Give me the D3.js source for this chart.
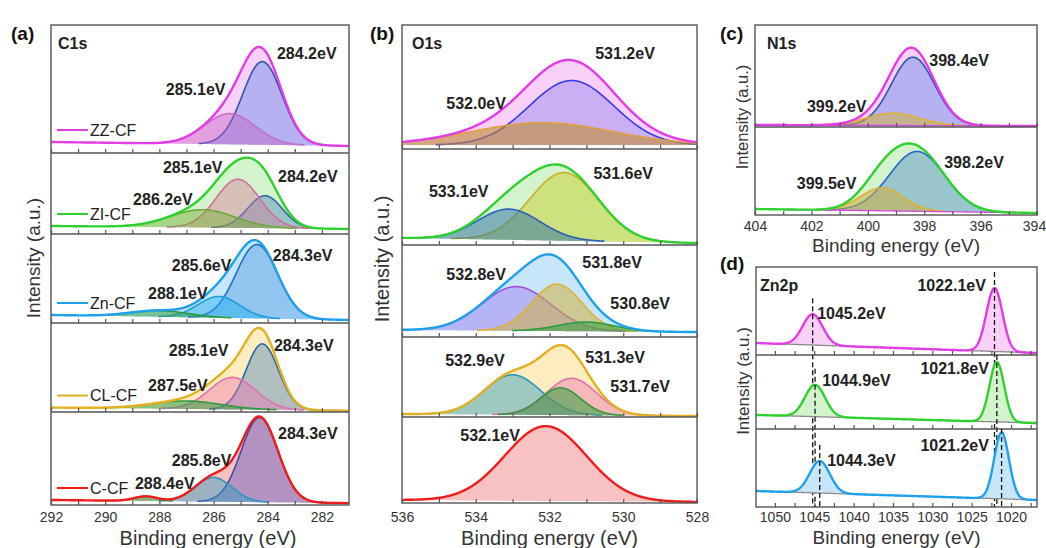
<!DOCTYPE html>
<html>
<head>
<meta charset="utf-8">
<script src="https://cdn.jsdelivr.net/npm/d3@7"></script>
<style>
body { margin: 0; background: #fff; }
svg { font-family: Arial, "Liberation Sans", sans-serif; }
</style>
</head>
<body>
<svg id="chart" width="1046" height="548"></svg>
<script>
// sample names, top strip to bottom strip
const samples = ["ZZ-CF", "ZI-CF", "Zn-CF", "CL-CF", "C-CF"];
const sampleLine = {"ZZ-CF": "#e23ce6", "ZI-CF": "#2fd12f", "Zn-CF": "#1fa0ea", "CL-CF": "#e3b022", "C-CF": "#f01c1c"};
const sampleFill = {"ZZ-CF": "#f9d0f7", "ZI-CF": "#d3f3cc", "Zn-CF": "#c8e6f9", "CL-CF": "#fcecbf", "C-CF": "#f9c2c2"};

// fitted component styles: [fill, stroke, fill opacity]
const compStyles = {
    indigo: ["#5b86e8", "#2b58a8", 0.42],
    orchid: ["#c45cc4", "#c070c8", 0.42],
    rose: ["#d87898", "#d0709a", 0.42],
    steel: ["#4a80c0", "#2a6aa0", 0.42],
    olive: ["#74b030", "#6aaa38", 0.45],
    azure: ["#4a98e8", "#1f6fc0", 0.42],
    cyan: ["#20b0f0", "#1aa0d8", 0.45],
    green: ["#30a040", "#2f9a3f", 0.55],
    pink: ["#f070b0", "#e070b0", 0.42],
    slate: ["#5050c0", "#4848a8", 0.42],
    teal: ["#2aa0c0", "#2a98c0", 0.45],
    blue: ["#8a80f0", "#3a3ae8", 0.42],
    tan: ["#c08a30", "#e0a040", 0.6],
    lime: ["#c8d030", "#c8b020", 0.5],
    navy: ["#2a70a8", "#2a60c0", 0.5],
    violet: ["#9a70f0", "#a050e0", 0.42],
    gold: ["#d0b040", "#e0b030", 0.55],
    sea: ["#5090c8", "#2a60d0", 0.45]
};

// peaks: [centre eV, height % of strip, fwhm eV, style]; backgrounds: [high-BE end, low-BE end] in %
const c1sBackground = [[8.6, 5.5], [9.9, 6.2], [9.0, 3.4], [5.0, 1.5], [5.4, 2.0]];
const c1sPeaks = [
    [[284.2, 65, 1.7, "indigo"], [285.4, 24, 2.2, "orchid"]],
    [[284.1, 40, 1.5, "steel"], [285.1, 60, 1.9, "rose"], [286.4, 22, 2.8, "olive"]],
    [[284.4, 83, 1.8, "azure"], [285.8, 24, 1.8, "cyan"], [288.0, 7, 2.5, "green"]],
    [[284.2, 74, 1.4, "steel"], [285.3, 36, 2.0, "pink"], [287.0, 9, 3.0, "green"]],
    [[284.3, 91, 1.6, "slate"], [286.0, 26, 1.6, "teal"], [288.5, 5, 1.0, "green"]]
];
const c1sNotes = [
    [[283.66, 78, "284.2eV"], [287.76, 50, "285.1eV"]],
    [[287.87, 82.7, "285.1eV"], [283.62, 71.6, "284.2eV"], [288.97, 43.2, "286.2eV"]],
    [[283.81, 76.4, "284.3eV"], [287.54, 65.2, "285.6eV"], [288.42, 33.7, "288.1eV"]],
    [[283.77, 75.3, "284.3eV"], [287.65, 69.7, "285.1eV"], [288.42, 30.3, "287.5eV"]],
    [[283.62, 77.4, "284.3eV"], [287.54, 48.4, "285.8eV"], [288.9, 23.7, "288.4eV"]]
];

const o1sBackground = [[3.2, 3.2], [7.3, 2.0], [7.6, 5.4], [3.75, 1.25], [3.5, 1.2]];
const o1sPeaks = [
    [[531.4, 52, 2.7, "blue"], [532.2, 18, 4.5, "tan"]],
    [[531.6, 71, 2.2, "lime"], [533.1, 32, 2.0, "navy"]],
    [[532.9, 48, 2.2, "violet"], [531.8, 51, 1.6, "gold"], [531.0, 10, 1.8, "green"]],
    [[533.0, 50, 1.8, "teal"], [531.4, 46, 1.6, "pink"], [531.7, 34, 1.3, "green"]],
    [[532.1, 87, 2.6, null]]
];
const o1sNotes = [
    [[530.76, 77.4, "531.2eV"], [534.8, 37.1, "532.0eV"]],
    [[530.81, 75, "531.6eV"], [535.27, 56.3, "533.1eV"]],
    [[531.11, 81.5, "531.8eV"], [534.8, 68.5, "532.8eV"], [530.35, 37, "530.8eV"]],
    [[531.03, 75, "531.3eV"], [534.83, 71.3, "532.9eV"], [530.35, 38.8, "531.7eV"]],
    [[534.42, 79, "532.1eV"]]
];

const n1sSamples = ["ZZ-CF", "ZI-CF"];
const n1sBackground = [[2.0, 1.0], [6.8, 2.3]];
const n1sPeaks = [
    [[398.4, 67, 1.8, "indigo"], [399.1, 12, 2.2, "gold"]],
    [[398.25, 68, 2.3, "sea"], [399.5, 26, 1.8, "gold"]]
];
const n1sNotes = [
    [[397.82, 65.7, "398.4eV"], [402.16, 20.6, "399.2eV"]],
    [[397.29, 60.2, "398.2eV"], [402.52, 36.4, "399.5eV"]]
];

const zn2pSamples = ["ZZ-CF", "ZI-CF", "Zn-CF"];
const zn2pBackground = [[13.6, 2.3], [19.0, 8.0], [20.5, 9.0]];
const zn2pPeaks = [
    [[1045.2, 35, 3.0, null], [1022.1, 72, 2.4, null]],
    [[1044.9, 43, 3.0, null], [1021.8, 81, 2.2, null]],
    [[1044.3, 41, 3.0, null], [1021.2, 85, 2.2, null]]
];
const zn2pNotes = [
    [[1044.63, 47.7, "1045.2eV"], [1031.89, 79.5, "1022.1eV"]],
    [[1043.99, 66.2, "1044.9eV"], [1031.51, 82.4, "1021.8eV"]],
    [[1043.36, 60.3, "1044.3eV"], [1031.51, 79.5, "1021.2eV"]]
];

const svg = d3.select("#chart");
let clipCount = 0;

function gauss(pk, e) {
    return pk[1] * Math.exp(-4 * Math.LN2 * Math.pow((e - pk[0]) / pk[2], 2));
}

function drawPanel(cfg) {
    const x = d3.scaleLinear().domain(cfg.domain).range([cfg.left, cfg.right]);
    const [eL, eR] = cfg.domain;
    const step = (eL - eR) / 800;
    const energies = d3.range(eR, eL + step / 2, step);
    const g = svg.append("g");
    const n = cfg.samples.length;
    const frameBottom = cfg.rows[n];

    cfg.samples.forEach((name, i) => {
        const top = cfg.rows[i], bottom = cfg.rows[i + 1];
        const y = d3.scaleLinear().domain([0, 100]).range([bottom, top]);
        const [bL, bR] = cfg.backgrounds[i];
        const bg = e => bR + (bL - bR) * (e - eR) / (eL - eR);
        const peaks = cfg.peaks[i];

        const id = "clip" + (clipCount++);
        g.append("clipPath").attr("id", id).append("rect")
            .attr("x", cfg.left).attr("y", top)
            .attr("width", cfg.right - cfg.left).attr("height", bottom - top);
        const sg = g.append("g").attr("clip-path", `url(#${id})`);

        const area = d3.area().x(d => x(d.e)).y0(d => y(d.b)).y1(d => y(d.b + d.v));
        const line = d3.line().x(d => x(d.e)).y(d => y(d.b + d.v));

        const env = energies.map(e => ({e: e, b: bg(e), v: d3.sum(peaks, pk => gauss(pk, e))}));
        sg.append("path").datum(env).attr("d", area).attr("fill", sampleFill[name]);

        peaks.filter(pk => pk[3]).forEach(pk => {
            const pts = energies.map(e => ({e: e, b: bg(e), v: gauss(pk, e)})).filter(d => d.v > 0.3);
            const st = compStyles[pk[3]];
            sg.append("path").datum(pts).attr("d", area)
                .attr("fill", st[0]).attr("fill-opacity", st[2]);
            sg.append("path").datum(pts).attr("d", line)
                .attr("fill", "none").attr("stroke", st[1]).attr("stroke-width", 1.6);
        });

        if (cfg.bgLine) {
            sg.append("path").datum(energies.map(e => ({e: e, b: bg(e), v: 0})))
                .attr("d", line).attr("fill", "none")
                .attr("stroke", cfg.bgLine).attr("stroke-width", 1.3);
        }

        sg.append("path").datum(env).attr("d", line)
            .attr("fill", "none").attr("stroke", sampleLine[name])
            .attr("stroke-width", 2.4).attr("stroke-linejoin", "round");

        if (cfg.dashed) {
            peaks.forEach(pk => {
                const yPeak = y(bg(pk[0]) + d3.sum(peaks, q => gauss(q, pk[0])));
                g.append("line")
                    .attr("x1", x(pk[0])).attr("x2", x(pk[0]))
                    .attr("y1", Math.max(top, yPeak - 16)).attr("y2", frameBottom)
                    .attr("stroke", "#111").attr("stroke-width", 1.3)
                    .attr("stroke-dasharray", "5,3");
            });
        }

        if (cfg.legend) {
            const ly = y(bL) - 12;
            g.append("line").attr("x1", cfg.left + 6).attr("x2", cfg.left + 37)
                .attr("y1", ly).attr("y2", ly)
                .attr("stroke", sampleLine[name]).attr("stroke-width", 2);
            g.append("text").attr("x", cfg.left + 39).attr("y", ly).attr("dy", "0.35em")
                .attr("font-size", 16).attr("fill", "#222").text(name);
        }

        cfg.notes[i].forEach(nt => {
            g.append("text").attr("x", x(nt[0])).attr("y", y(nt[1])).attr("dy", "0.35em")
                .attr("font-size", 16).attr("font-weight", "bold").attr("fill", "#222")
                .text(nt[2]);
        });

        // inward ticks on every strip bottom, labels on the last one only
        const axis = d3.axisBottom(x).tickValues(cfg.ticks).tickSize(-4).tickSizeOuter(0)
            .tickPadding(cfg.tickPad)
            .tickFormat(i === n - 1 ? (v => (Math.abs(v % cfg.labelStep) < 1e-6 ? d3.format("d")(v) : "")) : "");
        const ax = g.append("g").attr("transform", `translate(0,${bottom})`).call(axis);
        ax.select(".domain").remove();
        ax.selectAll(".tick line").attr("stroke", "#555").attr("stroke-width", 1.2);
        ax.selectAll(".tick text").attr("font-size", 14).attr("fill", "#333")
            .attr("font-family", "Arial, 'Liberation Sans', sans-serif")
            .attr("x", v => (x(v) > 1030 ? -3 : 0));

        if (i < n - 1) {
            g.append("line").attr("x1", cfg.left).attr("x2", cfg.right)
                .attr("y1", bottom).attr("y2", bottom)
                .attr("stroke", "#555").attr("stroke-width", 1.4);
        }
    });

    g.append("rect").attr("x", cfg.left).attr("y", cfg.rows[0])
        .attr("width", cfg.right - cfg.left).attr("height", frameBottom - cfg.rows[0])
        .attr("fill", "none").attr("stroke", "#555").attr("stroke-width", 1.4);

    g.append("text").attr("x", cfg.letterX).attr("y", cfg.letterY)
        .attr("font-size", 19).attr("font-weight", "bold").attr("fill", "#111").text(cfg.letter);
    g.append("text").attr("x", cfg.left + cfg.titleDx).attr("y", cfg.rows[0] + 24)
        .attr("font-size", 16).attr("font-weight", "bold").attr("fill", "#222").text(cfg.title);

    g.append("text").attr("x", (cfg.left + cfg.right) / 2 + cfg.xTitleDx).attr("y", frameBottom + cfg.xTitleDy)
        .attr("text-anchor", "middle").attr("font-size", cfg.titleSize).attr("fill", "#333")
        .text("Binding energy (eV)");
    g.append("text")
        .attr("transform", `translate(${cfg.yLabelX},${cfg.yLabelY}) rotate(-90)`)
        .attr("text-anchor", "middle").attr("dy", "0.35em")
        .attr("font-size", cfg.yLabelSize).attr("fill", "#333")
        .text("Intensity (a.u.)");
}

drawPanel({
    samples: samples, backgrounds: c1sBackground, peaks: c1sPeaks, notes: c1sNotes,
    domain: [292, 281], left: 51, right: 349, rows: [25, 153, 234, 323, 412, 505],
    ticks: d3.range(282, 292.5, 1), labelStep: 2, tickPad: 7, legend: true,
    letter: "(a)", letterX: 11, letterY: 40, title: "C1s", titleDx: 7,
    titleSize: 20, xTitleDx: 8, xTitleDy: 40,
    yLabelX: 33, yLabelY: 258, yLabelSize: 19
});

drawPanel({
    samples: samples, backgrounds: o1sBackground, peaks: o1sPeaks, notes: o1sNotes,
    domain: [536, 528], left: 402, right: 697, rows: [25, 149, 245, 337, 417, 503],
    ticks: d3.range(528, 536.5, 1), labelStep: 2, tickPad: 9,
    letter: "(b)", letterX: 370, letterY: 40, title: "O1s", titleDx: 10,
    titleSize: 20, xTitleDx: 0, xTitleDy: 42,
    yLabelX: 382, yLabelY: 259, yLabelSize: 20
});

drawPanel({
    samples: n1sSamples, backgrounds: n1sBackground, peaks: n1sPeaks, notes: n1sNotes,
    domain: [404, 394], left: 755, right: 1037, rows: [25, 127, 215],
    ticks: d3.range(394, 404.5, 1), labelStep: 2, tickPad: 6, bgLine: "#d646e0",
    letter: "(c)", letterX: 720, letterY: 40, title: "N1s", titleDx: 12,
    titleSize: 19, xTitleDx: 0, xTitleDy: 37,
    yLabelX: 742, yLabelY: 117, yLabelSize: 16.5
});

drawPanel({
    samples: zn2pSamples, backgrounds: zn2pBackground, peaks: zn2pPeaks, notes: zn2pNotes,
    domain: [1052.4, 1016.7], left: 756, right: 1037, rows: [267, 355, 429, 507],
    ticks: d3.range(1017.5, 1052.4, 2.5), labelStep: 5, tickPad: 5, bgLine: "#8a8a8a", dashed: true,
    letter: "(d)", letterX: 720, letterY: 270, title: "Zn2p", titleDx: 4,
    titleSize: 19, xTitleDx: 0, xTitleDy: 37,
    yLabelX: 743, yLabelY: 381, yLabelSize: 17
});
</script>
</body>
</html>
